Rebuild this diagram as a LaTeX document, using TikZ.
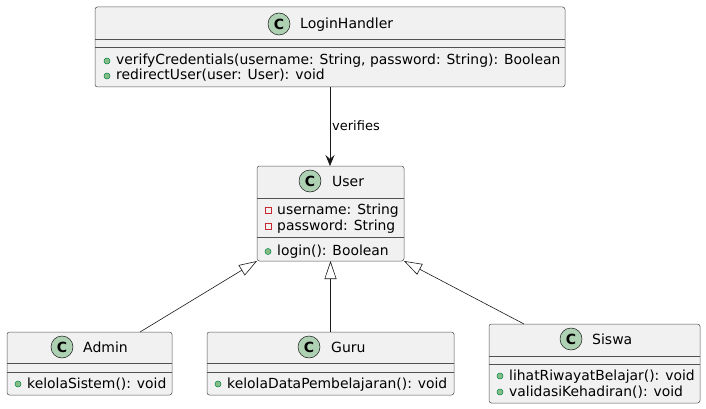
\documentclass[tikz,border=0pt]{standalone}
\usepackage{fontspec}
\setmainfont{DejaVu Sans}
\usetikzlibrary{arrows.meta}
\definecolor{boxfill}{HTML}{F1F1F1}
\definecolor{boxline}{HTML}{181818}
\definecolor{cfill}{HTML}{ADD1B2}
\definecolor{pubfill}{HTML}{84BE84}
\definecolor{publine}{HTML}{038048}
\definecolor{privline}{HTML}{C82930}
\tikzset{
 cls/.style={draw=boxline!75, fill=boxfill, line width=0.5pt, rounded corners=2.5pt, inner sep=0pt, outer sep=0pt},
 sepline/.style={draw=boxline!75, line width=0.5pt},
 cname/.style={font=\fontsize{14}{16}\selectfont, inner sep=0pt, anchor=base west},
 mem/.style={font=\fontsize{13.9}{16}\selectfont, inner sep=0pt, anchor=base west},
 cicon/.style={circle, draw=boxline, fill=cfill, line width=0.5pt, minimum size=22pt, inner sep=0pt, font=\fontsize{14}{14}\selectfont\bfseries},
 pub/.style={circle, draw=publine, fill=pubfill, line width=0.5pt, minimum size=6pt, inner sep=0pt},
 priv/.style={rectangle, draw=privline, line width=0.8pt, minimum size=6pt, inner sep=0pt},
 inh/.style={draw=boxline, line width=0.6pt, -{Triangle[open, length=18pt, width=12pt]}},
 dep/.style={draw=boxline, line width=0.6pt, -{Stealth[length=11pt, width=9pt, inset=4pt]}},
 lbl/.style={font=\fontsize{13}{15}\selectfont, inner sep=0pt, anchor=base west}
}
\begin{document}
\begin{tikzpicture}[x=1pt,y=-1pt]
\useasboundingbox (0,0) rectangle (706,409);
% LoginHandler
\node[cls, minimum width=470pt, minimum height=80pt] (lh) at (330,47) {};
\draw[sepline] (95,39) -- (565,39);
\draw[sepline] (95,47) -- (565,47);
\node[cicon] (lhc) at (279,24) {C};
\node[cname] (lhn) at (300,28.5) {LoginHandler};
\node[pub] (lhp1) at (107,61) {};
\node[mem] (lhm1) at (116,65) {verifyCredentials(username: String, password: String): Boolean};
\node[pub] (lhp2) at (107,76) {};
\node[mem] (lhm2) at (116,80) {redirectUser(user: User): void};
% User
\node[cls, minimum width=147pt, minimum height=95pt] (user) at (330.5,213.5) {};
\draw[sepline] (257,198) -- (404,198);
\draw[sepline] (257,237) -- (404,237);
\node[cicon] (userc) at (310,181) {C};
\node[cname] (usern) at (332,186) {User};
\node[priv] (userp1) at (268,210) {};
\node[mem] (userm1) at (277,214) {username: String};
\node[priv] (userp2) at (268,226) {};
\node[mem] (userm2) at (277,230) {password: String};
\node[pub] (userp3) at (268,251.5) {};
\node[mem] (userm3) at (277,255.5) {login(): Boolean};
% Admin
\node[cls, minimum width=165pt, minimum height=63pt] (admin) at (89.5,363.5) {};
\draw[sepline] (7,363) -- (172,363);
\draw[sepline] (7,372) -- (172,372);
\node[cicon] (adminc) at (62,347) {C};
\node[cname] (adminn) at (83,352) {Admin};
\node[pub] (adminp1) at (18,384) {};
\node[mem] (adminm1) at (27,388) {kelolaSistem(): void};
% Guru
\node[cls, minimum width=247pt, minimum height=63pt] (guru) at (330.5,363.5) {};
\draw[sepline] (207,363) -- (454,363);
\draw[sepline] (207,372) -- (454,372);
\node[cicon] (guruc) at (309,347) {C};
\node[cname] (gurun) at (331,352) {Guru};
\node[pub] (gurup1) at (218,384) {};
\node[mem] (gurum1) at (227,388) {kelolaDataPembelajaran(): void};
% Siswa
\node[cls, minimum width=211pt, minimum height=79pt] (siswa) at (594.5,363.5) {};
\draw[sepline] (489,356) -- (700,356);
\draw[sepline] (489,364) -- (700,364);
\node[cicon] (siswac) at (571,339) {C};
\node[cname] (siswan) at (592,344) {Siswa};
\node[pub] (siswap1) at (500,376) {};
\node[mem] (siswam1) at (509,380) {lihatRiwayatBelajar(): void};
\node[pub] (siswap2) at (500,392) {};
\node[mem] (siswam2) at (509,396) {validasiKehadiran(): void};
% connectors
\draw[dep] (lh.south) -- (lh.south |- user.north);
\node[lbl] (verlbl) at (332,130.5) {verifies};
\draw[inh] ([xshift=50.5pt]admin.north) -- (user.south west);
\draw[inh] (guru.north) -- (guru.north |- user.south);
\draw[inh] ([xshift=-70.5pt]siswa.north) -- (user.south east);
\end{tikzpicture}
\end{document}
